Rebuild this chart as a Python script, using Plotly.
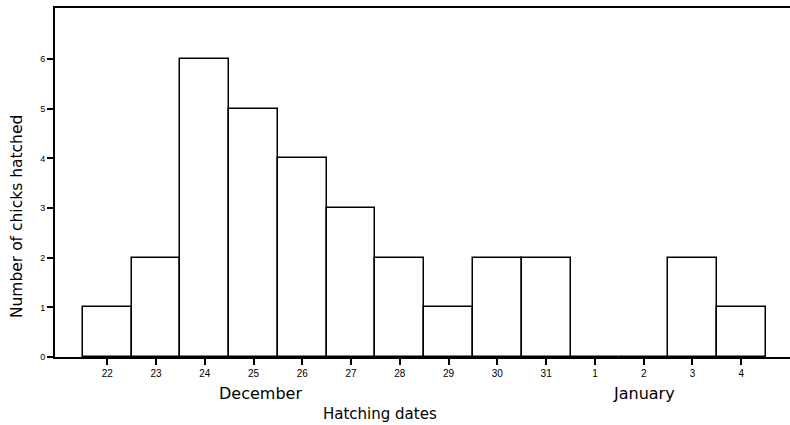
import plotly.graph_objects as go

dates = ["22", "23", "24", "25", "26", "27", "28", "29", "30", "31", "1", "2", "3", "4"]
chicks = [1, 2, 6, 5, 4, 3, 2, 1, 2, 2, 0, 0, 2, 1]
y_ticks = [0, 1, 2, 3, 4, 5, 6]

fig = go.Figure()
fig.add_trace(go.Bar(
    x=dates, y=chicks,
    marker=dict(color="white", line=dict(color="black", width=1.5)),
    width=1.0,
))

font_main = "DejaVu Sans, Liberation Sans, sans-serif"
font_tick = "Liberation Sans, Arial, sans-serif"

fig.update_layout(
    width=790, height=425,
    margin=dict(l=55, r=0, t=8, b=68),
    paper_bgcolor="white", plot_bgcolor="white",
    showlegend=False, bargap=0,
    font=dict(family=font_main, color="black"),
    xaxis=dict(
        type="category", range=[-1.07, 14.0],
        showline=True, linecolor="black", linewidth=2, mirror=True,
        ticks="outside", ticklen=6, tickwidth=1.5, tickcolor="black",
        showgrid=False, zeroline=False,
        tickfont=dict(size=10, family=font_tick),
    ),
    yaxis=dict(
        range=[0, 7.03], tickvals=y_ticks,
        showline=True, linecolor="black", linewidth=2, mirror=False,
        ticks="outside", ticklen=6, tickwidth=1.5, tickcolor="black",
        showgrid=False, zeroline=False,
        tickfont=dict(size=9, family=font_tick),
    ),
    annotations=[
        dict(text="Number of chicks hatched", x=0, xref="paper", xshift=-38,
             y=0.401, yref="paper", textangle=-90, showarrow=False,
             font=dict(size=15.5, family=font_main), xanchor="center", yanchor="middle"),
        dict(text="December", x=3.15, xref="x", y=0, yref="paper", yshift=-36,
             showarrow=False, font=dict(size=16, family=font_main), yanchor="middle"),
        dict(text="January", x=11, xref="x", y=0, yref="paper", yshift=-36,
             showarrow=False, font=dict(size=16, family=font_main), yanchor="middle"),
        dict(text="Hatching dates", x=5.6, xref="x", y=0, yref="paper", yshift=-57,
             showarrow=False, font=dict(size=15, family=font_main), yanchor="middle"),
    ],
)

fig.write_html("out.html")
